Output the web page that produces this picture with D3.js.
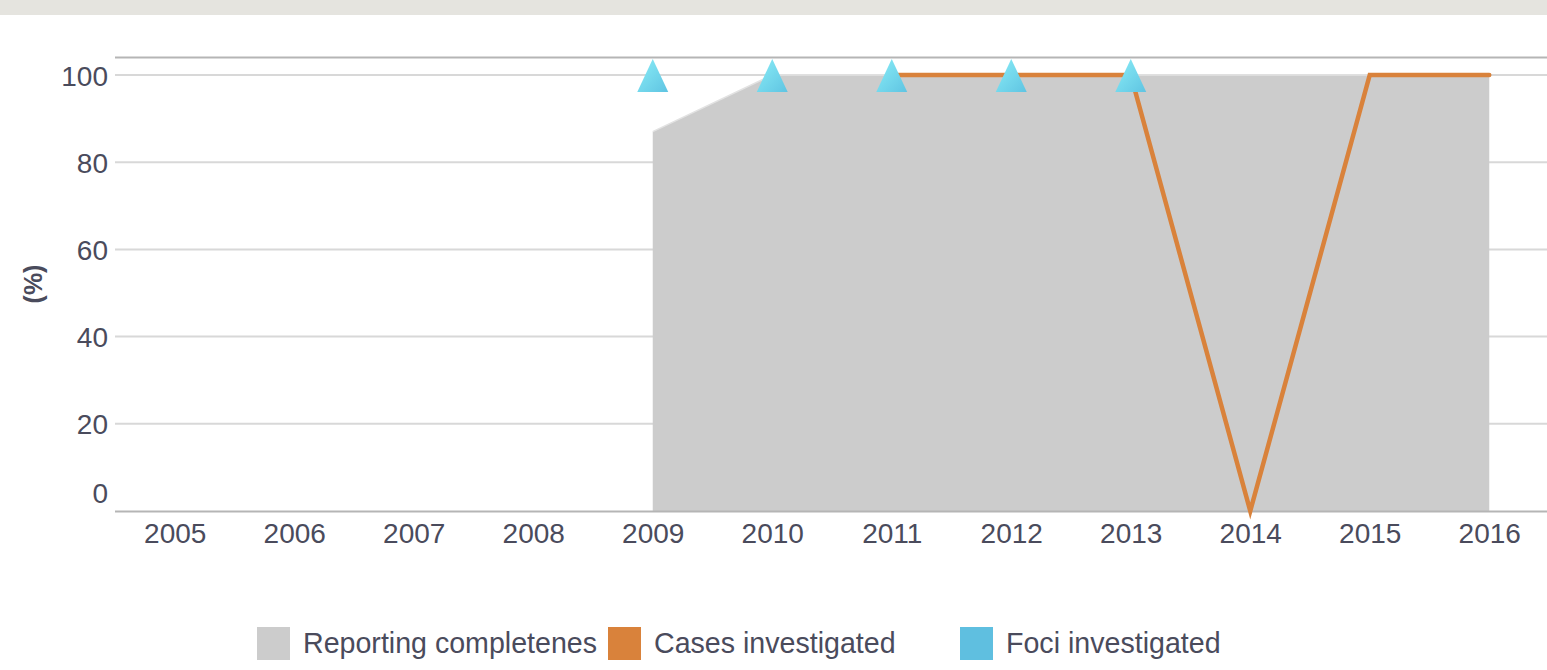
<!DOCTYPE html>
<html><head><meta charset="utf-8">
<script src="https://cdn.jsdelivr.net/npm/d3@7/dist/d3.min.js"></script>
<style>
body{margin:0;background:#fff;overflow:hidden;}
text{font-family:"Liberation Sans",Arial,sans-serif;fill:#4a4b5c;}
</style></head>
<body><svg id="c" width="1547" height="670"></svg>
<script>
const years = ["2005","2006","2007","2008","2009","2010","2011","2012","2013","2014","2015","2016"];
const yTicks = [0,20,40,60,80,100];
const completenessYears = ["2009","2010","2011","2012","2013","2014","2015","2016"];
const completeness = [87,100,100,100,100,100,100,100];
const casesYears = ["2011","2012","2013","2014","2015","2016"];
const cases = [100,100,100,0,100,100];
const fociYears = ["2009","2010","2011","2012","2013"];
const foci = [100,100,100,100,100];
const legendLabels = ["Reporting completenes","Cases investigated","Foci investigated"];
const legendColors = ["#cccccc","#d9823b","#5fbfe0"];

(function(){
const svg = d3.select("#c");
const W = 1547, mLeft = 115, mRight = 1549, mTop = 75, mBottom = 511;

svg.append("rect").attr("x",0).attr("y",0).attr("width",W).attr("height",15).attr("fill","#e5e4df");

const x = d3.scalePoint().domain(years).range([mLeft,mRight]).padding(0.5);
const y = d3.scaleLinear().domain([0,100]).range([mBottom,mTop]);

const defs = svg.append("defs");
const g1 = defs.append("linearGradient").attr("id","tri").attr("x1","0").attr("y1","0").attr("x2","1").attr("y2","1");
g1.append("stop").attr("offset","0").attr("stop-color","#8aedf7");
g1.append("stop").attr("offset","1").attr("stop-color","#5fc4e2");

// gridlines
svg.append("g").selectAll("line").data(yTicks.filter(d=>d>0)).join("line")
  .attr("x1",mLeft).attr("x2",W).attr("y1",d=>y(d)).attr("y2",d=>y(d))
  .attr("stroke","#d8d8d8").attr("stroke-width",2);
// top line
svg.append("line").attr("x1",mLeft).attr("x2",W).attr("y1",y(104)).attr("y2",y(104))
  .attr("stroke","#b5b5b5").attr("stroke-width",2);

// area
const area = d3.area().x((d,i)=>x(completenessYears[i])).y0(y(0)).y1(d=>y(d));
svg.append("path").datum(completeness).attr("d",area).attr("fill","#cccccc");
svg.append("path").datum(completeness).attr("fill","none").attr("stroke","#e2e2e2").attr("stroke-width",1.5)
  .attr("d",d3.line().x((d,i)=>x(completenessYears[i])).y(d=>y(d)));

// baseline
svg.append("line").attr("x1",mLeft).attr("x2",W).attr("y1",y(0)+0.5).attr("y2",y(0)+0.5)
  .attr("stroke","#b5b5b5").attr("stroke-width",2);

// y axis labels
const yAxis = d3.axisLeft(y).tickValues(yTicks).tickSize(0).tickPadding(7);
const ya = svg.append("g").attr("transform",`translate(${mLeft},0)`).call(yAxis);
ya.select(".domain").remove();
ya.selectAll("text").attr("font-size",28).attr("fill","#4a4b5c").attr("font-family","Liberation Sans, Arial")
  .attr("dy",d=>d===0?"-0.3em":"0.36em");

// x axis labels
const xAxis = d3.axisBottom(x).tickSize(0).tickPadding(12);
const xa = svg.append("g").attr("transform",`translate(0,${mBottom})`).call(xAxis);
xa.select(".domain").remove();
xa.selectAll("text").attr("font-size",28).attr("fill","#4a4b5c").attr("font-family","Liberation Sans, Arial");

// y title
svg.append("text").attr("transform","translate(42,284) rotate(-90)").attr("text-anchor","middle")
  .attr("font-size",25).attr("font-weight","bold").text("(%)");

// cases line
svg.append("path").datum(cases).attr("fill","none").attr("stroke","#d9823b").attr("stroke-width",4.5)
  .attr("stroke-linecap","round").attr("stroke-linejoin","miter")
  .attr("d",d3.line().x((d,i)=>x(casesYears[i])).y(d=>y(d)));

// foci triangles
const triPath = "M0,-16L15.5,17L-15.5,17Z";
svg.append("g").selectAll("path").data(foci).join("path")
  .attr("transform",(d,i)=>`translate(${x(fociYears[i])},${y(d)})`)
  .attr("d",triPath).attr("fill","url(#tri)");

// legend
const lx = [257,608,960];
const lg = svg.append("g").selectAll("g").data(legendLabels).join("g")
  .attr("transform",(d,i)=>`translate(${lx[i]},627)`);
lg.append("rect").attr("width",33).attr("height",33).attr("fill",(d,i)=>legendColors[i]);
lg.append("text").attr("x",46).attr("y",26).attr("font-size",28.6).text(d=>d);
})();
</script></body></html>
